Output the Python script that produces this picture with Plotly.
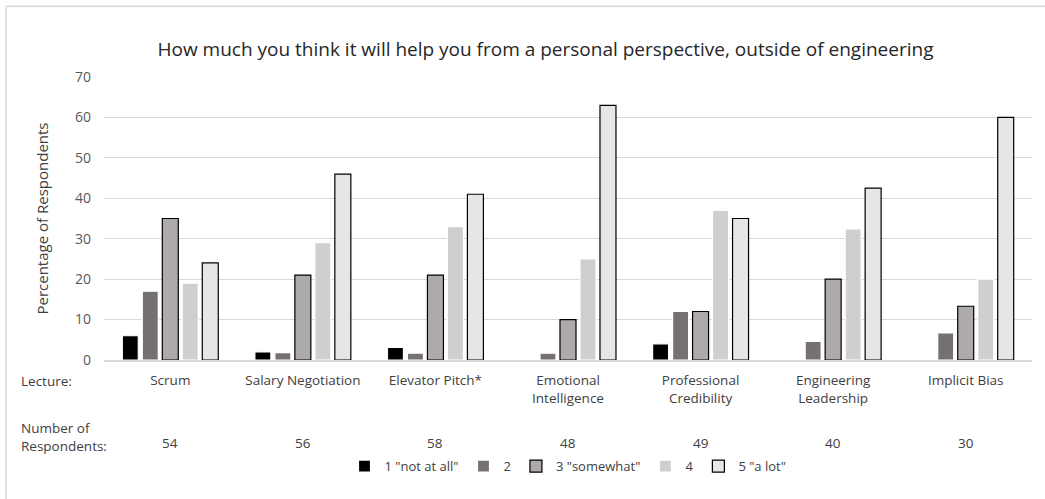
import plotly.graph_objects as go

lectures = ["Scrum", "Salary Negotiation", "Elevator Pitch*", "Emotional<br>Intelligence",
            "Professional<br>Credibility", "Engineering<br>Leadership", "Implicit Bias"]
respondents = [54, 56, 58, 48, 49, 40, 30]
series_names = ['1 "not at all"', '2', '3 "somewhat"', '4', '5 "a lot"']
s1 = [6, 2, 3.1, 0, 4, 0, 0]
s2 = [17, 1.8, 1.7, 1.7, 12, 4.6, 6.7]
s3 = [35, 21, 21, 10, 12, 20, 13.3]
s4 = [19, 29, 33, 25, 37, 32.4, 20]
s5 = [24, 46, 41, 63, 35, 42.5, 60]
y_ticks = [0, 10, 20, 30, 40, 50, 60, 70]

series_values = [s1, s2, s3, s4, s5]
colors = ["#000000", "#767171", "#AEAAAA", "#D0CECE", "#E7E6E6"]
line_colors = ["#FFFFFF", "#FFFFFF", "#000000", "#FFFFFF", "#000000"]

FONT = "Open Sans"
TXT = 13.5
fig = go.Figure()
for name, vals, c, lc in zip(series_names, series_values, colors, line_colors):
    fig.add_trace(go.Bar(x=lectures, y=vals, name=name,
                         marker=dict(color=c, line=dict(color=lc, width=1.2))))

fig.update_layout(
    width=1045, height=499,
    margin=dict(l=104, r=13, t=77, b=139),
    paper_bgcolor="white", plot_bgcolor="white",
    barmode="group", bargap=0.246, bargroupgap=0.2,
    font=dict(family=FONT, size=TXT, color="#404040"),
    title=dict(text="How much you think it will help you from a personal perspective, outside of engineering",
               x=0.522, xanchor="center", y=0.902, yanchor="middle",
               font=dict(family=FONT, size=19, color="#262626")),
    showlegend=True,
    legend=dict(orientation="h", x=0.5, xanchor="center", y=-0.375, yanchor="middle",
                font=dict(family=FONT, size=13, color="#404040"),
                itemwidth=30, traceorder="normal"),
)
fig.update_yaxes(range=[0, 70], tickvals=y_ticks, showgrid=True, gridcolor="#D9D9D9",
                 gridwidth=1, zeroline=False, showline=False, ticks="",
                 ticklabelstandoff=12,
                 tickfont=dict(family=FONT, size=14, color="#595959"),
                 title=dict(text="Percentage of Respondents", standoff=22,
                            font=dict(family=FONT, size=15, color="#404040")))
fig.update_xaxes(showline=True, linecolor="#D9D9D9", linewidth=1.5, ticks="",
                 ticklabelstandoff=7,
                 tickfont=dict(family=FONT, size=TXT, color="#404040"))

# Row labels and respondent counts
fig.add_annotation(text="Lecture:", xref="paper", yref="paper", x=-0.092, y=-0.075,
                   xanchor="left", yanchor="middle", showarrow=False,
                   font=dict(family=FONT, size=TXT, color="#404040"))
fig.add_annotation(text="Number of<br>Respondents:", xref="paper", yref="paper", x=-0.092, y=-0.272,
                   xanchor="left", yanchor="middle", align="left", showarrow=False,
                   font=dict(family=FONT, size=TXT, color="#404040"))
for lec, n in zip(lectures, respondents):
    fig.add_annotation(text=str(n), x=lec, xref="x", yref="paper", y=-0.293,
                       xanchor="center", yanchor="middle", showarrow=False,
                       font=dict(family=FONT, size=TXT, color="#404040"))

# Chart frame (top & left edges visible)
fig.add_shape(type="line", xref="paper", yref="paper", x0=-0.1056, x1=1.02, y0=1.25, y1=1.25,
              line=dict(color="#D9D9D9", width=1.5))
fig.add_shape(type="line", xref="paper", yref="paper", x0=-0.1056, x1=-0.1056, y0=1.25, y1=-0.5,
              line=dict(color="#D9D9D9", width=1.5))

fig.write_html("out.html")
